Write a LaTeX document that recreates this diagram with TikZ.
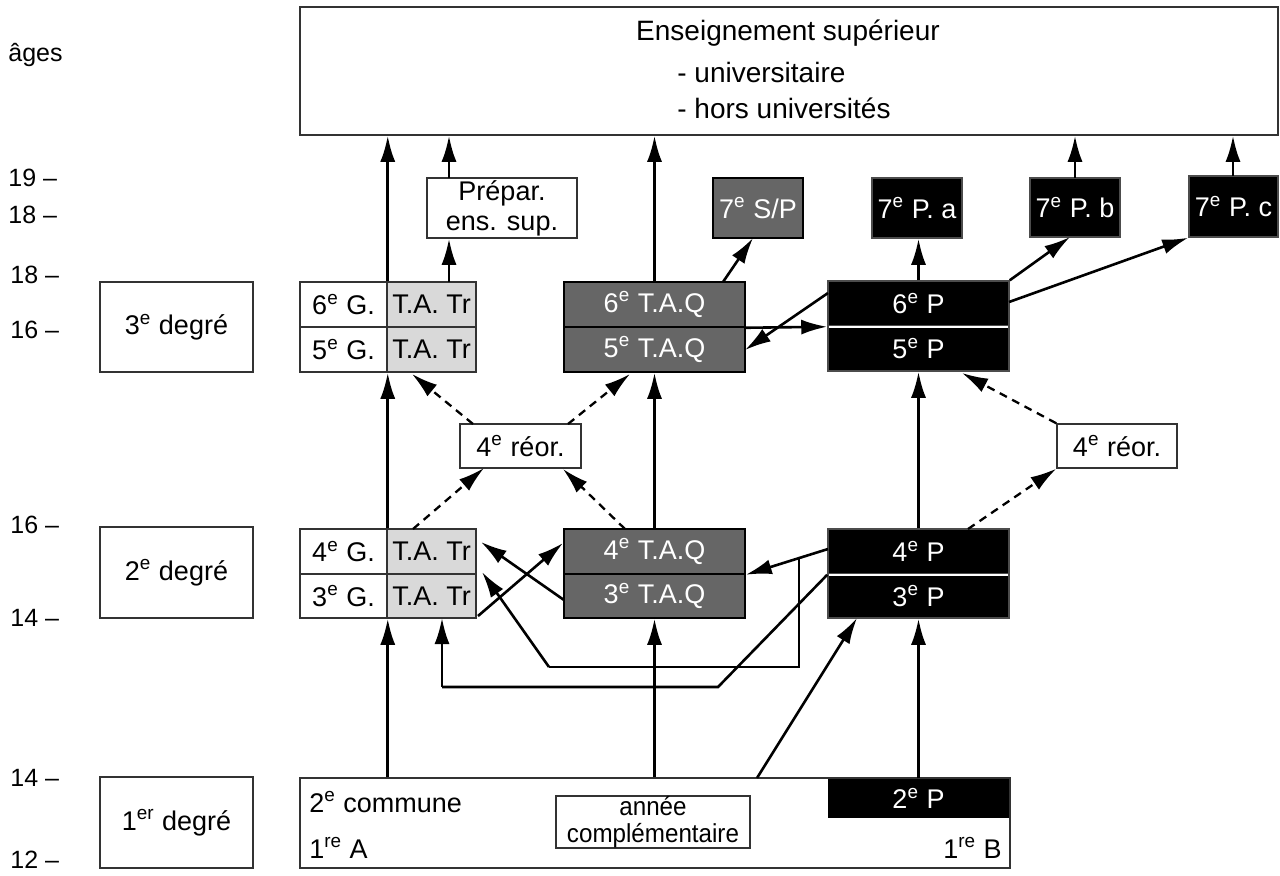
\documentclass[tikz,border=0pt]{standalone}
\usepackage{fontspec}
\setmainfont{Liberation Sans}
\usetikzlibrary{arrows.meta,fit,calc}
\definecolor{taq}{HTML}{666666}
\definecolor{tat}{HTML}{D9D9D9}
\begin{document}
\begin{tikzpicture}[x=0.5pt,y=-0.5pt,
  bx/.style={inner sep=0pt, draw=black!80, line width=0.75pt},
  wbox/.style={bx, fill=white},
  gbox/.style={bx, fill=tat},
  dbox/.style={bx, fill=taq, draw=black},
  kbox/.style={bx, fill=black, draw=black!70},
  lab/.style={inner sep=0pt, font=\fontsize{13.5}{15}\selectfont, align=center},
  labw/.style={lab, text=white},
  txt/.style={inner sep=0pt, font=\fontsize{14}{16}\selectfont},
  txtb/.style={inner sep=0pt, font=\fontsize{13.5}{15}\selectfont},
  agel/.style={anchor=west, inner sep=0pt, font=\fontsize{12.5}{14}\selectfont},
  arr/.style={line width=1.3pt, -{Latex[length=13pt,width=7.5pt]}},
  darr/.style={line width=1.15pt, dash pattern=on 4pt off 3pt, -{Latex[length=13pt,width=7.5pt]}},
  ln/.style={line width=1.3pt}]
\useasboundingbox (0,0) rectangle (1280,875);

% ages
\node[agel] (ag) at (8,55) {âges};
\node[agel] (a19) at (8,178) {19 –};
\node[agel] (a18a) at (8,215) {18 –};
\node[agel] (a18b) at (10,275) {18 –};
\node[agel] (a16a) at (10,330) {16 –};
\node[agel] (a16b) at (10,525) {16 –};
\node[agel] (a14a) at (10,618) {14 –};
\node[agel] (a14b) at (10,778) {14 –};
\node[agel] (a12) at (10,860) {12 –};

% degree boxes
\node[wbox, fit={(100,282)(253,372)}, label={[lab]center:3\textsuperscript{e} degré}] (d3) {};
\node[wbox, fit={(100,527)(253,618)}, label={[lab]center:2\textsuperscript{e} degré}] (d2) {};
\node[wbox, fit={(100,777)(253,868)}, label={[lab]center:1\textsuperscript{er} degré}] (d1) {};

% top box
\node[wbox, fit={(300,7)(1278,135)}] (sup) {};
\node[txt] (sup1) at (788,33) {Enseignement supérieur};
\node[txt, anchor=west] (sup2) at (677,72) {- universitaire};
\node[txt, anchor=west] (sup3) at (677,108) {- hors universités};

% G column
\node[wbox, fit={(300,282)(387,327)}, label={[lab]center:6\textsuperscript{e} G.}] (g6a) {};
\node[gbox, fit={(387,282)(476,327)}, label={[lab]center:T.A. Tr}] (g6b) {};
\node[wbox, fit={(300,327)(387,372)}, label={[lab]center:5\textsuperscript{e} G.}] (g5a) {};
\node[gbox, fit={(387,327)(476,372)}, label={[lab]center:T.A. Tr}] (g5b) {};
\node[wbox, fit={(300,529)(387,574)}, label={[lab]center:4\textsuperscript{e} G.}] (g4a) {};
\node[gbox, fit={(387,529)(476,574)}, label={[lab]center:T.A. Tr}] (g4b) {};
\node[wbox, fit={(300,574)(387,618)}, label={[lab]center:3\textsuperscript{e} G.}] (g3a) {};
\node[gbox, fit={(387,574)(476,618)}, label={[lab]center:T.A. Tr}] (g3b) {};

% TAQ column
\node[dbox, fit={(564,282)(745,327)}, label={[labw]center:6\textsuperscript{e} T.A.Q}] (t6) {};
\node[dbox, fit={(564,327)(745,372)}, label={[labw]center:5\textsuperscript{e} T.A.Q}] (t5) {};
\node[dbox, fit={(564,529)(745,574)}, label={[labw]center:4\textsuperscript{e} T.A.Q}] (t4) {};
\node[dbox, fit={(564,574)(745,618)}, label={[labw]center:3\textsuperscript{e} T.A.Q}] (t3) {};

% P column
\node[kbox, fit={(828,281)(1009,326)}, label={[labw]center:6\textsuperscript{e} P}] (p6) {};
\node[kbox, fit={(828,326)(1009,371)}, label={[labw]center:5\textsuperscript{e} P}] (p5) {};
\node[kbox, fit={(828,529)(1009,574)}, label={[labw]center:4\textsuperscript{e} P}] (p4) {};
\node[kbox, fit={(828,574)(1009,618)}, label={[labw]center:3\textsuperscript{e} P}] (p3) {};
\draw[white, line width=0.8pt] ([xshift=1pt]p6.south west) -- ([xshift=-1pt]p6.south east);
\draw[white, line width=0.8pt] ([xshift=1pt]p4.south west) -- ([xshift=-1pt]p4.south east);

% 7e boxes
\node[dbox, fit={(713,178)(803,238)}, label={[labw]center:7\textsuperscript{e} S/P}] (sp7) {};
\node[kbox, fit={(872,178)(962,238)}, label={[labw]center:7\textsuperscript{e} P. a}] (pa7) {};
\node[kbox, fit={(1030,178)(1120,237)}, label={[labw]center:7\textsuperscript{e} P. b}] (pb7) {};
\node[kbox, fit={(1189,176)(1278,237)}, label={[labw]center:7\textsuperscript{e} P. c}] (pc7) {};

% prep
\node[wbox, fit={(427,178)(577,238)}, label={[lab]center:Prépar.\\ens. sup.}] (prep) {};

% reor
\node[wbox, fit={(460,424)(581,468)}, label={[lab]center:4\textsuperscript{e} réor.}] (r1) {};
\node[wbox, fit={(1057,424)(1177,468)}, label={[lab]center:4\textsuperscript{e} réor.}] (r2) {};

% bottom box
\node[wbox, fit={(300,778)(1010,868)}] (bot) {};
\node[kbox, draw=none, fit={(828,779)(1009,818)}, label={[labw]center:2\textsuperscript{e} P}] (p2) {};
\node[wbox, fit={(556,796)(750,848)}, label={[lab, font=\fontsize{13}{13.5}\selectfont]center:\scalebox{0.93}[1]{année}\\\scalebox{0.93}[1]{complémentaire}}] (ac) {};
\node[txtb, anchor=west] (c2) at (309,802) {2\textsuperscript{e} commune};
\node[txtb, anchor=west] (c1a) at (309,848) {1\textsuperscript{re} A};
\node[txtb, anchor=east] (c1b) at (1002,848) {1\textsuperscript{re} B};

% coordinates
\coordinate (kprep) at (449,282);
\coordinate (kprep2) at (449,178);
\coordinate (ksp) at (723,282);
\coordinate (ksp2) at (753,238);
\coordinate (kpb) at (1070,237);
\coordinate (kpc) at (1009,302);
\coordinate (kpb7) at (1075,178);
\coordinate (kpc7) at (1233,176);
\coordinate (kp6l) at (828,293);
\coordinate (kt5r) at (745,350);
\coordinate (kdiag) at (757,778);
\coordinate (kdiag2) at (857,618);
\coordinate (kg3r) at (478,616);
\coordinate (kt4l) at (563,543);
\coordinate (kt3l) at (564,600);
\coordinate (kg4r) at (481,542);
\coordinate (kp4l) at (828,549);
\coordinate (kbr) at (799,557);
\coordinate (kbr2) at (799,667);
\coordinate (kbr3) at (549,667);
\coordinate (kg3t) at (482,572);
\coordinate (kq1) at (718,687);
\coordinate (kq2) at (442,687);
\coordinate (kq3) at (442,618);
% dashed ends
\coordinate (e1) at (473,424);
\coordinate (e1t) at (412,374);
\coordinate (e2) at (568,424);
\coordinate (e2t) at (630,374);
\coordinate (e3) at (413,529);
\coordinate (e3t) at (484,468);
\coordinate (e4) at (625,529);
\coordinate (e4t) at (563,469);
\coordinate (e5t) at (962,373);
\coordinate (e6) at (968,529);

% arrows from bottom
\draw[arr] (bot.north -| g3a.south east) -- (g3a.south east);
\draw[arr] (bot.north -| t3.south) -- (t3.south);
\draw[arr] (kdiag) -- (kdiag2);
\draw[arr] (p2.north -| p3.south) -- (p3.south);

% 2nd -> 3rd degree verticals
\draw[arr] (g4a.north east) -- (g5a.south east);
\draw[arr] (t4.north) -- (t5.south);
\draw[arr] (p4.north) -- (p5.south);

% upper
\draw[arr] (g6a.north east) -- (g6a.north east |- sup.south);
\draw[arr] (kprep) -- (kprep |- prep.south);
\draw[arr] (kprep2) -- (kprep2 |- sup.south);
\draw[arr] (t6.north) -- (t6.north |- sup.south);
\draw[arr] (ksp) -- (ksp2);
\draw[arr] (p6.north) -- (p6.north |- pa7.south);
\draw[arr] (p6.north east) -- (kpb);
\draw[arr] (kpc) -- (pc7.south west);
\draw[arr] (kpb7) -- (kpb7 |- sup.south);
\draw[arr] (kpc7) -- (kpc7 |- sup.south);
\draw[arr] (t6.south east) -- (p6.south west);
\draw[arr] (kp6l) -- (kt5r);

% middle crossings
\draw[arr] (kg3r) -- (kt4l);
\draw[arr] (kt3l) -- (kg4r);
\draw[arr] (kp4l) -- (t4.south east);
\draw[ln] (kbr) -- (kbr2) -- (kbr3);
\draw[arr] (kbr3) -- (kg3t);
\draw[ln] (p4.south west) -- (kq1) -- (kq2);
\draw[arr] (kq2) -- (kq3);

% dashed
\draw[darr] (e1) -- (e1t);
\draw[darr] (e2) -- (e2t);
\draw[darr] (e3) -- (e3t);
\draw[darr] (e4) -- (e4t);
\draw[darr] (r2.north west) -- (e5t);
\draw[darr] (e6) -- (r2.south west);
\end{tikzpicture}
\end{document}
